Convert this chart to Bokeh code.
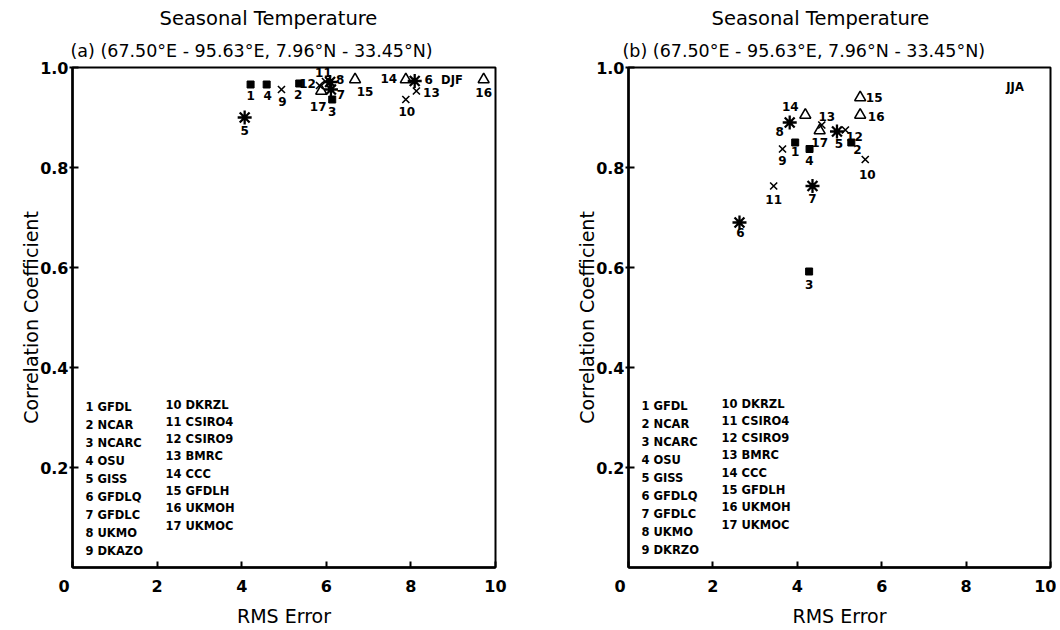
from bokeh.plotting import figure
from bokeh.layouts import row
from bokeh.models import Range1d, FixedTicker, Title, Label, ColumnDataSource, PrintfTickFormatter
from bokeh.embed import file_html
from bokeh.resources import INLINE
from bokeh.core.properties import value

# ---------------- data ----------------
model_ids = list(range(1, 18))
model_names_djf = ["GFDL", "NCAR", "NCARC", "OSU", "GISS", "GFDLQ", "GFDLC", "UKMO", "DKAZO",
                   "DKRZL", "CSIRO4", "CSIRO9", "BMRC", "CCC", "GFDLH", "UKMOH", "UKMOC"]
model_names_jja = ["GFDL", "NCAR", "NCARC", "OSU", "GISS", "GFDLQ", "GFDLC", "UKMO", "DKRZO",
                   "DKRZL", "CSIRO4", "CSIRO9", "BMRC", "CCC", "GFDLH", "UKMOH", "UKMOC"]
marker_kind = ["square"] * 4 + ["asterisk"] * 4 + ["x"] * 5 + ["triangle"] * 4

djf_rms = [4.21, 5.36, 6.14, 4.59, 4.07, 8.09, 6.11, 6.09, 4.94, 7.88, 5.98, 5.84, 8.13, 7.88, 6.68, 9.72, 5.88]
djf_corr = [0.966, 0.968, 0.936, 0.966, 0.900, 0.973, 0.956, 0.971, 0.956, 0.936, 0.972, 0.964, 0.953, 0.976, 0.976, 0.976, 0.953]
jja_rms = [3.95, 5.28, 4.28, 4.29, 4.94, 2.63, 4.36, 3.82, 3.65, 5.61, 3.44, 5.14, 4.58, 4.19, 5.49, 5.49, 4.53]
jja_corr = [0.850, 0.850, 0.592, 0.837, 0.872, 0.690, 0.763, 0.890, 0.837, 0.816, 0.763, 0.875, 0.885, 0.905, 0.940, 0.905, 0.874]

x_ticks = [0, 2, 4, 6, 8, 10]
y_ticks = [0.2, 0.4, 0.6, 0.8, 1.0]

title_main = "Seasonal Temperature"
title_sub = "(67.50°E - 95.63°E, 7.96°N - 33.45°N)"

# ---------------- label placement (screen px, +dy = down) ----------------
djf_label_off = [(0, 11), (-1, 11), (0, 12), (1, 11), (0, 13), (14, -2), (10, 5), (10, -3), (1, 12),
                 (1, 12), (-2, -9), (-12, -2), (15, 1), (-17, -1), (10, 12), (0, 13), (-3, 15)]
jja_label_off = [(0, 9), (6, 7), (0, 13), (0, 11), (2, 12), (1, 10), (0, 12), (-10, 9), (0, 11),
                 (2, 15), (0, 13), (9, 6), (5, -9), (-15, -9), (14, 0), (16, 1), (0, 12)]

MSIZE = {"square": 7, "asterisk": 14, "x": 10, "triangle": 11}
MFILL = {"square": 1.0, "asterisk": 0.0, "x": 0.0, "triangle": 0.0}
MLW = {"square": 1.0, "asterisk": 2.3, "x": 1.6, "triangle": 1.6}

FONT = "DejaVu Sans"
NB = "\u00a0"


def make_panel(rms, corr, names, offs, season, season_xy, tag,
               width, height, left, frame_w, top, frame_h, main_off, sub_off):
    p = figure(width=width, height=height, x_range=Range1d(0, 10), y_range=Range1d(0, 1),
               output_backend="svg", toolbar_location=None, title=None,
               min_border_left=left, min_border_right=width - left - frame_w,
               min_border_top=top, min_border_bottom=height - top - frame_h)
    p.grid.visible = False
    p.background_fill_color = "white"
    p.border_fill_color = "white"
    p.outline_line_color = "black"
    p.outline_line_width = 2

    src = ColumnDataSource(dict(
        x=rms, y=corr, lab=[str(i) for i in model_ids], marker=marker_kind,
        size=[MSIZE[m] for m in marker_kind], fa=[MFILL[m] for m in marker_kind],
        lw=[MLW[m] for m in marker_kind],
        dx=[o[0] for o in offs], dy=[o[1] for o in offs]))
    p.scatter("x", "y", source=src, marker="marker", size="size", fill_color="black",
              fill_alpha="fa", line_color="black", line_width="lw")
    p.text("x", "y", text="lab", source=src, x_offset="dx", y_offset="dy",
           text_align="center", text_baseline="middle", text_font=value(FONT),
           text_font_size="12px", text_font_style="bold", text_color="black")

    # model legend (two text columns)
    col1 = [f"{i} {n}" for i, n in zip(model_ids[:9], names[:9])]
    col2 = [f"{i} {n}" for i, n in zip(model_ids[9:], names[9:])]
    for j, t in enumerate(col1):
        p.add_layout(Label(x=13, y=frame_h - 341 - j * 18.1, x_units="screen", y_units="screen",
                           text=t, text_font=FONT, text_font_size="11.5px", text_color="black",
                           text_font_style="bold", text_baseline="middle"))
    for j, t in enumerate(col2):
        p.add_layout(Label(x=93, y=frame_h - 339 - j * 17.3, x_units="screen", y_units="screen",
                           text=t, text_font=FONT, text_font_size="11.5px", text_color="black",
                           text_font_style="bold", text_baseline="middle"))

    p.add_layout(Label(x=season_xy[0], y=season_xy[1], text=season, text_font=FONT,
                       text_font_size="11.5px", text_font_style="bold", text_color="black",
                       text_align="center", text_baseline="middle"))

    p.add_layout(Title(text=f"{tag} {title_sub}", align="left", offset=sub_off, text_font=FONT,
                       text_font_size="17.5px", text_font_style="normal", text_color="black",
                       standoff=13), "above")
    p.add_layout(Title(text=title_main, align="left", offset=main_off, text_font=FONT,
                       text_font_size="19.5px", text_font_style="normal", text_color="black",
                       standoff=6), "above")

    p.xaxis.ticker = FixedTicker(ticks=x_ticks)
    p.xaxis.major_label_overrides = {0: "0" + NB * 3}
    p.yaxis.ticker = FixedTicker(ticks=y_ticks)
    p.yaxis.formatter = PrintfTickFormatter(format="%.1f")
    for ax in (p.xaxis, p.yaxis):
        ax.axis_line_width = 2.5
        ax.axis_line_color = "black"
        ax.major_tick_line_width = 2
        ax.major_tick_line_color = "black"
        ax.minor_tick_line_color = None
        ax.major_label_text_font = FONT
        ax.major_label_text_font_size = "16px"
        ax.major_label_text_font_style = "bold"
        ax.major_label_text_color = "black"
        ax.axis_label_text_font = FONT
        ax.axis_label_text_font_size = "19px"
        ax.axis_label_text_font_style = "normal"
        ax.axis_label_text_color = "black"
    p.xaxis.major_tick_in = 6
    p.xaxis.major_tick_out = 0
    p.xaxis.major_label_standoff = 9
    p.xaxis.axis_label = "RMS Error"
    p.xaxis.axis_label_standoff = 6
    p.yaxis.major_tick_in = 6
    p.yaxis.major_tick_out = 3
    p.yaxis.major_label_standoff = 1
    p.yaxis.axis_label = "Correlation Coefficient"
    p.yaxis.axis_label_standoff = -5
    return p


p1 = make_panel(djf_rms, djf_corr, model_names_djf, djf_label_off, "DJF", (8.97, 0.976), "(a)",
                width=556, height=630, left=72, frame_w=423, top=67, frame_h=502,
                main_off=87, sub_off=-2)
p2 = make_panel(jja_rms, jja_corr, model_names_jja, jja_label_off, "JJA", (9.16, 0.962), "(b)",
                width=500, height=630, left=72, frame_w=422, top=64, frame_h=503,
                main_off=83, sub_off=-6)

layout = row(p1, p2)
open("out.html", "w").write(file_html(layout, INLINE))
